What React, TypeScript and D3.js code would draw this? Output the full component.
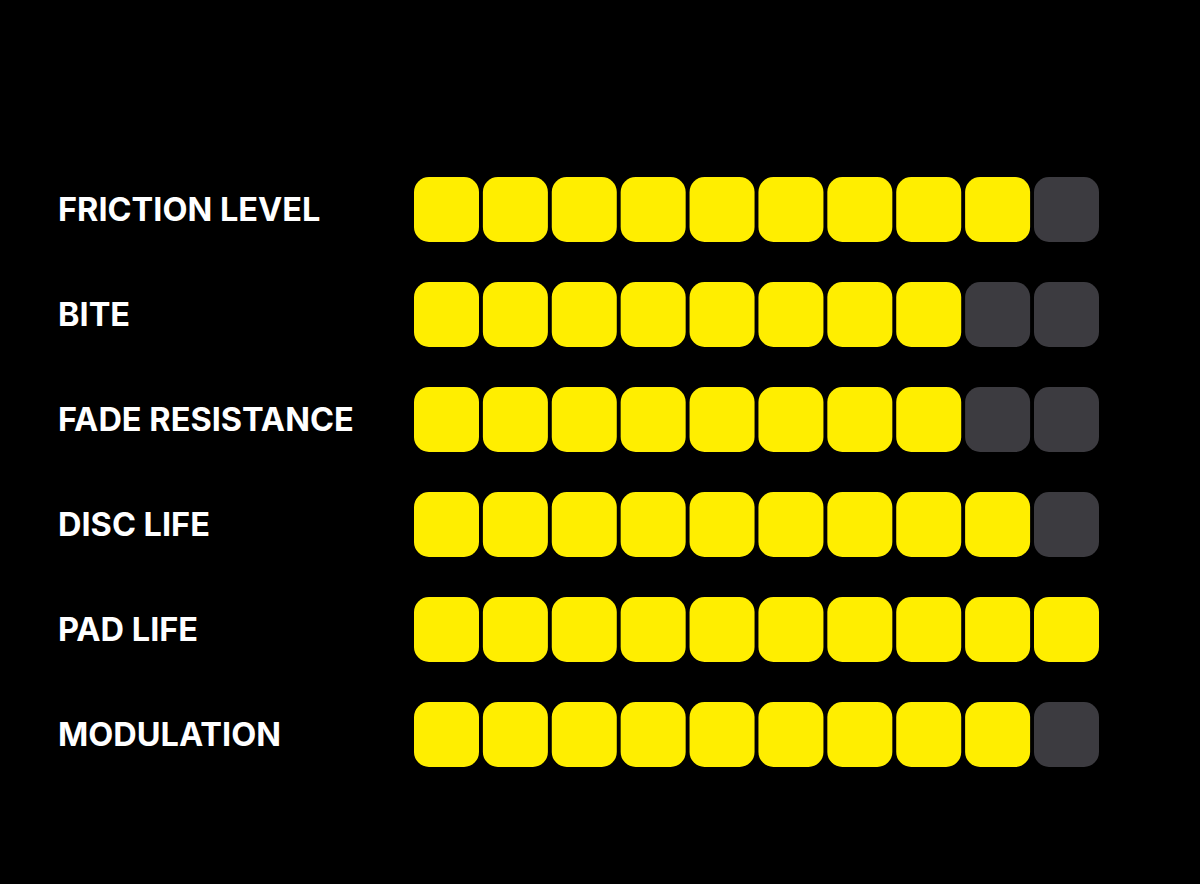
import { useEffect, useRef } from 'react';
import * as d3 from 'd3';

const categories = ['FRICTION LEVEL', 'BITE', 'FADE RESISTANCE', 'DISC LIFE', 'PAD LIFE', 'MODULATION'];
const scores = [9, 8, 8, 9, 10, 9];
const maxScore = 10;

export default function App() {
  const svgRef = useRef<SVGSVGElement>(null);

  useEffect(() => {
    if (!svgRef.current) return;
    const svg = d3.select(svgRef.current);
    svg.selectAll('*').remove();

    const width = 1200;
    const height = 884;
    const fontSize = 32.5;

    svg.append('rect')
      .attr('width', width)
      .attr('height', height)
      .attr('fill', '#000');

    const yScale = d3.scaleBand<string>()
      .domain(categories)
      .range([177, 767])
      .paddingInner(0.381)
      .paddingOuter(0);

    const steps = d3.range(maxScore);
    const xScale = d3.scaleBand<number>()
      .domain(steps)
      .range([414, 1099])
      .paddingInner(0.0565)
      .paddingOuter(0);

    const rows = svg.selectAll('g.row')
      .data(categories)
      .enter()
      .append('g')
      .attr('class', 'row')
      .attr('transform', d => `translate(0, ${yScale(d)})`);

    // Labels
    rows.append('text')
      .attr('x', 58)
      .attr('y', yScale.bandwidth() / 2 + 12)
      .attr('fill', '#fff')
      .attr('font-family', 'Inter, "Noto Sans", sans-serif')
      .attr('font-weight', 700)
      .attr('font-size', `${fontSize}px`)
      .text(d => d);

    // Score cells
    rows.each(function (cat, i) {
      d3.select(this)
        .selectAll('rect')
        .data(steps)
        .enter()
        .append('rect')
        .attr('x', s => xScale(s) ?? 0)
        .attr('y', 0)
        .attr('width', xScale.bandwidth())
        .attr('height', yScale.bandwidth())
        .attr('rx', 15)
        .attr('ry', 15)
        .attr('fill', s => (s < scores[i] ? '#FFEE00' : '#3C3B40'));
    });
  }, []);

  return (
    <svg
      ref={svgRef}
      width={1200}
      height={884}
      style={{ position: 'absolute', top: 0, left: 0, display: 'block' }}
    />
  );
}
